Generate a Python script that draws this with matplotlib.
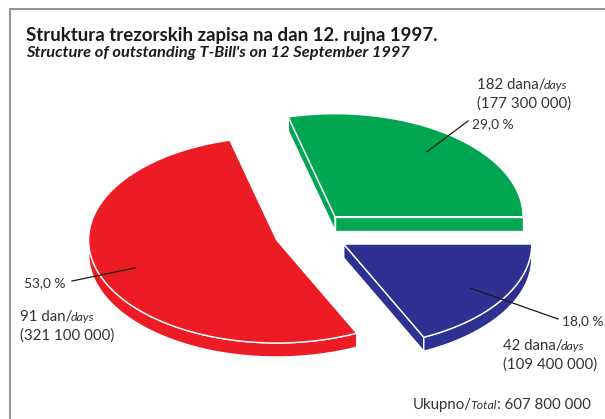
import numpy as np
import matplotlib
matplotlib.use("Agg")
import matplotlib.pyplot as plt
from matplotlib.patches import Polygon

plt.rcParams['font.family'] = ['Lato', 'DejaVu Sans']

# data
labels_hr = ["182 dana/", "91 dan/", "42 dana/"]
labels_en = ["days", "days", "days"]
amounts = ["(177 300 000)", "(321 100 000)", "(109 400 000)"]
shares = [29.0, 53.0, 18.0]
colors = ["#00a651", "#ed1c24", "#2e3192"]
total = "607 800 000"

# pie geometry (pixels, y down)
CX, CY = 312, 233
A, B = 188, 103
DEPTH = 14
EXPLODE = 0.2

fig = plt.figure(figsize=(6.05, 4.19), dpi=100)
ax = fig.add_axes([0, 0, 1, 1])
ax.set_xlim(0, 605)
ax.set_ylim(419, 0)
ax.axis("off")

# frame
ax.plot([9.5, 9.5, 605], [419, 9.5, 9.5], color="#8a8a8a", lw=1.3,
        solid_joinstyle="miter")


def to_px(cx, cy, u, v):
    return cx + A * u, cy - B * v


def draw_slice(t0, t1, color):
    mid = np.radians((t0 + t1) / 2)
    cx = CX + EXPLODE * A * np.cos(mid)
    cy = CY - EXPLODE * B * np.sin(mid)
    th = np.radians(np.linspace(t0, t1, 120))
    ax_, ay_ = to_px(cx, cy, np.cos(th), np.sin(th))
    px = np.concatenate([[cx], ax_])
    py = np.concatenate([[cy], ay_])

    # radial walls: visible if the outward normal points down (dx > 0 going ccw)
    for (x0, y0, x1, y1) in [(cx, cy, ax_[0], ay_[0]), (ax_[-1], ay_[-1], cx, cy)]:
        if x1 - x0 > 0:
            ax.add_patch(Polygon([[x0, y0], [x1, y1], [x1, y1 + DEPTH], [x0, y0 + DEPTH]],
                                 closed=True, fc=color, ec="white", lw=1.0, zorder=2))
    # arc wall, visible on the front half
    vis = np.sin(th) < 0
    if vis.any():
        idx = np.where(vis)[0]
        i0, i1 = idx[0], idx[-1] + 1
        wx = ax_[i0:i1]
        wy = ay_[i0:i1]
        poly = np.column_stack([np.concatenate([wx, wx[::-1]]),
                                np.concatenate([wy, (wy + DEPTH)[::-1]])])
        ax.add_patch(Polygon(poly, closed=True, fc=color, ec="white", lw=1.0, zorder=2))
    ax.add_patch(Polygon(np.column_stack([px, py]), closed=True, fc=color,
                         ec="white", lw=1.0, zorder=3))
    return cx, cy, mid


# angles: green from 0 ccw, then red, then blue
bounds = np.concatenate([[0], np.cumsum(shares) / 100 * 360])
anchors = []
for i in range(3):
    anchors.append(draw_slice(bounds[i], bounds[i + 1], colors[i]))

fig.canvas.draw()
renderer = fig.canvas.get_renderer()


def rich(x, y, parts, color="#333333"):
    prev = None
    for s, size, style in parts:
        if prev == "normal" and style == "italic":
            x -= 1.5
        t = ax.text(x, y, s, fontsize=size, style=style, color=color,
                    va="baseline", ha="left", zorder=5)
        bb = t.get_window_extent(renderer)
        x += bb.width  # 1 px == 1 data unit
        prev = style
    return x


TXT = 10.8
PCT = 9.9
SMALL = 8.8

# leader lines and labels
label_pos = [(468, 121), (72, 281), (558, 319)]
pct_pos = [(472, 128), (24, 287), (562, 325)]
name_pos = [(477, 89), (20, 321), (503, 350)]
amt_pos = [(477, 108), (20, 340), (503, 369)]

for i in range(3):
    cx, cy, mid = anchors[i]
    sx, sy = to_px(cx, cy, 0.8 * np.cos(mid), 0.8 * np.sin(mid))
    ex, ey = label_pos[i]
    ax.plot([sx, ex], [sy, ey], color="#1a1a1a", lw=0.9, zorder=6)
    pct = ("%.1f" % shares[i]).replace(".", ",") + " %"
    rich(pct_pos[i][0], pct_pos[i][1], [(pct, PCT, "normal")])
    rich(name_pos[i][0], name_pos[i][1], [(labels_hr[i], TXT, "normal"), (labels_en[i], SMALL, "italic")])
    rich(amt_pos[i][0], amt_pos[i][1], [(amounts[i], TXT, "normal")])

rich(413, 409, [("Ukupno/", TXT, "normal"), ("Total", SMALL, "italic"), (": " + total, TXT, "normal")])

ax.text(26, 41, "Struktura trezorskih zapisa na dan 12. rujna 1997.", fontsize=13.4,
        fontweight="bold", color="#1a1a1a", va="baseline")
ax.text(26, 57, "Structure of outstanding T-Bill's on 12 September 1997", fontsize=11.8,
        fontweight="bold", style="italic", color="#1a1a1a", va="baseline")

fig.savefig("out.png", dpi=100)
